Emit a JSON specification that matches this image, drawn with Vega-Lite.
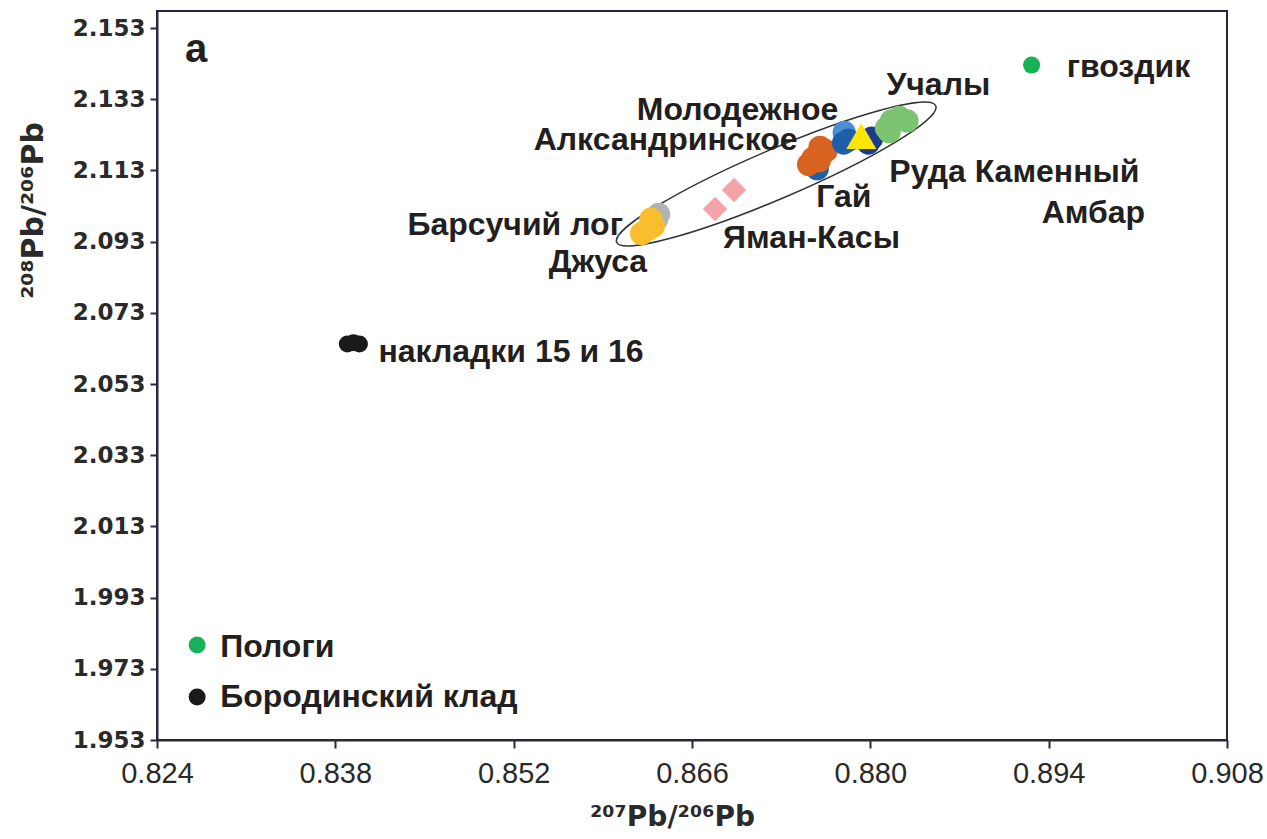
{
  "$schema": "https://vega.github.io/schema/vega-lite/v6.json",
  "autosize": "none",
  "width": 1070,
  "height": 729,
  "padding": {"left": 157, "top": 11, "right": 40, "bottom": 99},
  "background": "white",
  "config": {
    "view": {"stroke": "#2b2640", "strokeWidth": 2},
    "axis": {"grid": false}
  },
  "datasets": {
    "points": [
      {"x": 0.83894, "y": 2.06424, "group": "накладки 15 и 16"},
      {"x": 0.83989, "y": 2.06424, "group": "накладки 15 и 16"},
      {"x": 0.83942, "y": 2.0646, "group": "накладки 15 и 16"},
      {"x": 0.89266, "y": 2.1426, "group": "гвоздик"},
      {"x": 0.82715, "y": 1.97968, "group": "Пологи"},
      {"x": 0.82715, "y": 1.96508, "group": "Бородинский клад"},
      {"x": 0.86338, "y": 2.1007, "group": "Барсучий лог"},
      {"x": 0.86322, "y": 2.0993, "group": "Барсучий лог"},
      {"x": 0.86277, "y": 2.0993, "group": "Джуса"},
      {"x": 0.86246, "y": 2.0963, "group": "Джуса"},
      {"x": 0.86204, "y": 2.0953, "group": "Джуса"},
      {"x": 0.86296, "y": 2.0973, "group": "Джуса"},
      {"x": 0.86781, "y": 2.1022, "group": "Яман-Касы"},
      {"x": 0.8693, "y": 2.1075, "group": "Яман-Касы"},
      {"x": 0.87583, "y": 2.1135, "group": "Гай"},
      {"x": 0.87605, "y": 2.1195, "group": "Александринское"},
      {"x": 0.87652, "y": 2.1185, "group": "Александринское"},
      {"x": 0.87552, "y": 2.1165, "group": "Александринское"},
      {"x": 0.87515, "y": 2.1147, "group": "Александринское"},
      {"x": 0.87599, "y": 2.1157, "group": "Александринское"},
      {"x": 0.8763, "y": 2.1187, "group": "Александринское"},
      {"x": 0.87795, "y": 2.1237, "group": "Молодежное"},
      {"x": 0.87827, "y": 2.1215, "group": "Гай"},
      {"x": 0.8779, "y": 2.1207, "group": "Гай"},
      {"x": 0.87984, "y": 2.1207, "group": "Руда Каменный Амбар"},
      {"x": 0.88012, "y": 2.1221, "group": "Руда Каменный Амбар"},
      {"x": 0.87929, "y": 2.1227, "group": "треугольник"},
      {"x": 0.88126, "y": 2.1249, "group": "Учалы"},
      {"x": 0.88165, "y": 2.1269, "group": "Учалы"},
      {"x": 0.88228, "y": 2.1279, "group": "Учалы"},
      {"x": 0.88288, "y": 2.1269, "group": "Учалы"},
      {"x": 0.88149, "y": 2.1239, "group": "Учалы"}
    ],
    "labels": [
      {"x": 0.88126, "y": 2.137, "label": "Учалы"},
      {"x": 0.86167, "y": 2.13, "label": "Молодежное"},
      {"x": 0.85357, "y": 2.1215, "label": "Алксандринское"},
      {"x": 0.88149, "y": 2.1126, "label": "Руда Каменный"},
      {"x": 0.89345, "y": 2.101, "label": "Амбар"},
      {"x": 0.87575, "y": 2.1055, "label": "Гай"},
      {"x": 0.86844, "y": 2.094, "label": "Яман-Касы"},
      {"x": 0.84366, "y": 2.0977, "label": "Барсучий лог"},
      {"x": 0.85475, "y": 2.0873, "label": "Джуса"},
      {"x": 0.89541, "y": 2.142, "label": "гвоздик"},
      {"x": 0.84138, "y": 2.062, "label": "накладки 15 и 16"},
      {"x": 0.82896, "y": 1.9791, "label": "Пологи"},
      {"x": 0.82896, "y": 1.9651, "label": "Бородинский клад"}
    ]
  },
  "encoding": {
    "x": {
      "field": "x", "type": "quantitative",
      "scale": {"domain": [0.824, 0.908], "nice": false, "zero": false},
      "axis": {
        "values": [0.824, 0.838, 0.852, 0.866, 0.88, 0.894, 0.908],
        "format": ".3f",
        "domainColor": "#2b2640", "domainWidth": 2,
        "tickColor": "#2b2640", "tickWidth": 2, "tickSize": 8,
        "labelFont": "Liberation Sans",
        "labelFontSize": 29, "labelColor": "#2a2a2a", "labelPadding": 11,
        "labelFlush": false, "labelOverlap": false,
        "title": "²⁰⁷Pb/²⁰⁶Pb",
        "titleFont": "DejaVu Sans",
        "titleFontSize": 28, "titleFontWeight": "bold", "titleColor": "#2a2a2a",
        "titleX": 515, "titleY": 77, "titleBaseline": "middle", "titleAlign": "center"
      }
    },
    "y": {
      "field": "y", "type": "quantitative",
      "scale": {"domain": [1.953, 2.1578], "nice": false, "zero": false},
      "axis": {
        "values": [1.953, 1.973, 1.993, 2.013, 2.033, 2.053, 2.073, 2.093, 2.113, 2.133, 2.153],
        "format": ".3f",
        "domainColor": "#2b2640", "domainWidth": 2,
        "tickColor": "#2b2640", "tickWidth": 2, "tickSize": 7,
        "labelFont": "DejaVu Sans", "labelFontWeight": "bold",
        "labelFontSize": 23, "labelColor": "#2a2a2a", "labelPadding": 5,
        "labelOverlap": false,
        "title": "²⁰⁸Pb/²⁰⁶Pb",
        "titleFont": "DejaVu Sans", "titleFontSize": 30, "titleFontWeight": "bold",
        "titleColor": "#2a2a2a",
        "titleAngle": -90, "titleX": -124, "titleY": 199,
        "titleBaseline": "middle", "titleAlign": "center"
      }
    },
    "color": {
      "field": "group", "type": "nominal", "legend": null,
      "scale": {
        "domain": ["накладки 15 и 16", "гвоздик", "Пологи", "Бородинский клад", "Барсучий лог", "Джуса", "Яман-Касы", "Гай", "Александринское", "Молодежное", "Руда Каменный Амбар", "треугольник", "Учалы"],
        "range": ["#1a1a1a", "#17b257", "#17b257", "#1a1a1a", "#b3b3b3", "#f8be2c", "#f4a4a9", "#1f5ea9", "#d8621f", "#4a8ed3", "#1b3c8c", "#ffe600", "#7cc472"]
      }
    }
  },
  "layer": [
    {
      "data": {"values": [{"x": 0.87261, "y": 2.1120}]},
      "mark": {
        "type": "point",
        "shape": "M -0.9195 0.3932 A 1 0.142 -23.15 0 1 -0.0558 -0.1306 A 1 0.142 -23.15 0 1 0.9195 -0.3932 A 1 0.142 -23.15 0 1 0.0558 0.1306 A 1 0.142 -23.15 0 1 -0.9195 0.3932 Z",
        "size": 120409,
        "filled": false,
        "stroke": "#333333",
        "strokeWidth": 1.5,
        "opacity": 1
      },
      "encoding": {"color": {"value": "#333333"}}
    },
    {
      "data": {"name": "labels"},
      "mark": {"type": "text", "font": "Liberation Sans", "fontWeight": "bold", "fontSize": 32, "align": "left", "baseline": "middle"},
      "encoding": {"text": {"field": "label"}, "color": {"value": "#231f20"}}
    },
    {
      "data": {"values": [{"x": 0.8262, "y": 2.1468, "label": "a"}]},
      "mark": {"type": "text", "font": "Liberation Sans", "fontWeight": "bold", "fontSize": 40, "align": "left", "baseline": "middle"},
      "encoding": {"text": {"field": "label"}, "color": {"value": "#231f20"}}
    },
    {
      "data": {"name": "points"},
      "transform": [{"filter": {"field": "group", "oneOf": ["накладки 15 и 16", "гвоздик", "Пологи", "Бородинский клад"]}}],
      "mark": {"type": "circle", "size": 290, "opacity": 1}
    },
    {
      "data": {"name": "points"},
      "transform": [{"filter": {"field": "group", "oneOf": ["Барсучий лог", "Джуса", "Гай", "Александринское", "Молодежное", "Руда Каменный Амбар", "Учалы"]}}],
      "mark": {"type": "circle", "size": 540, "opacity": 1}
    },
    {
      "data": {"name": "points"},
      "transform": [{"filter": {"field": "group", "equal": "Яман-Касы"}}],
      "mark": {"type": "square", "size": 300, "angle": 45, "opacity": 1}
    },
    {
      "data": {"name": "points"},
      "transform": [{"filter": {"field": "group", "equal": "треугольник"}}],
      "mark": {"type": "point", "shape": "triangle-up", "filled": true, "size": 900, "opacity": 1, "strokeWidth": 0}
    }
  ]
}
